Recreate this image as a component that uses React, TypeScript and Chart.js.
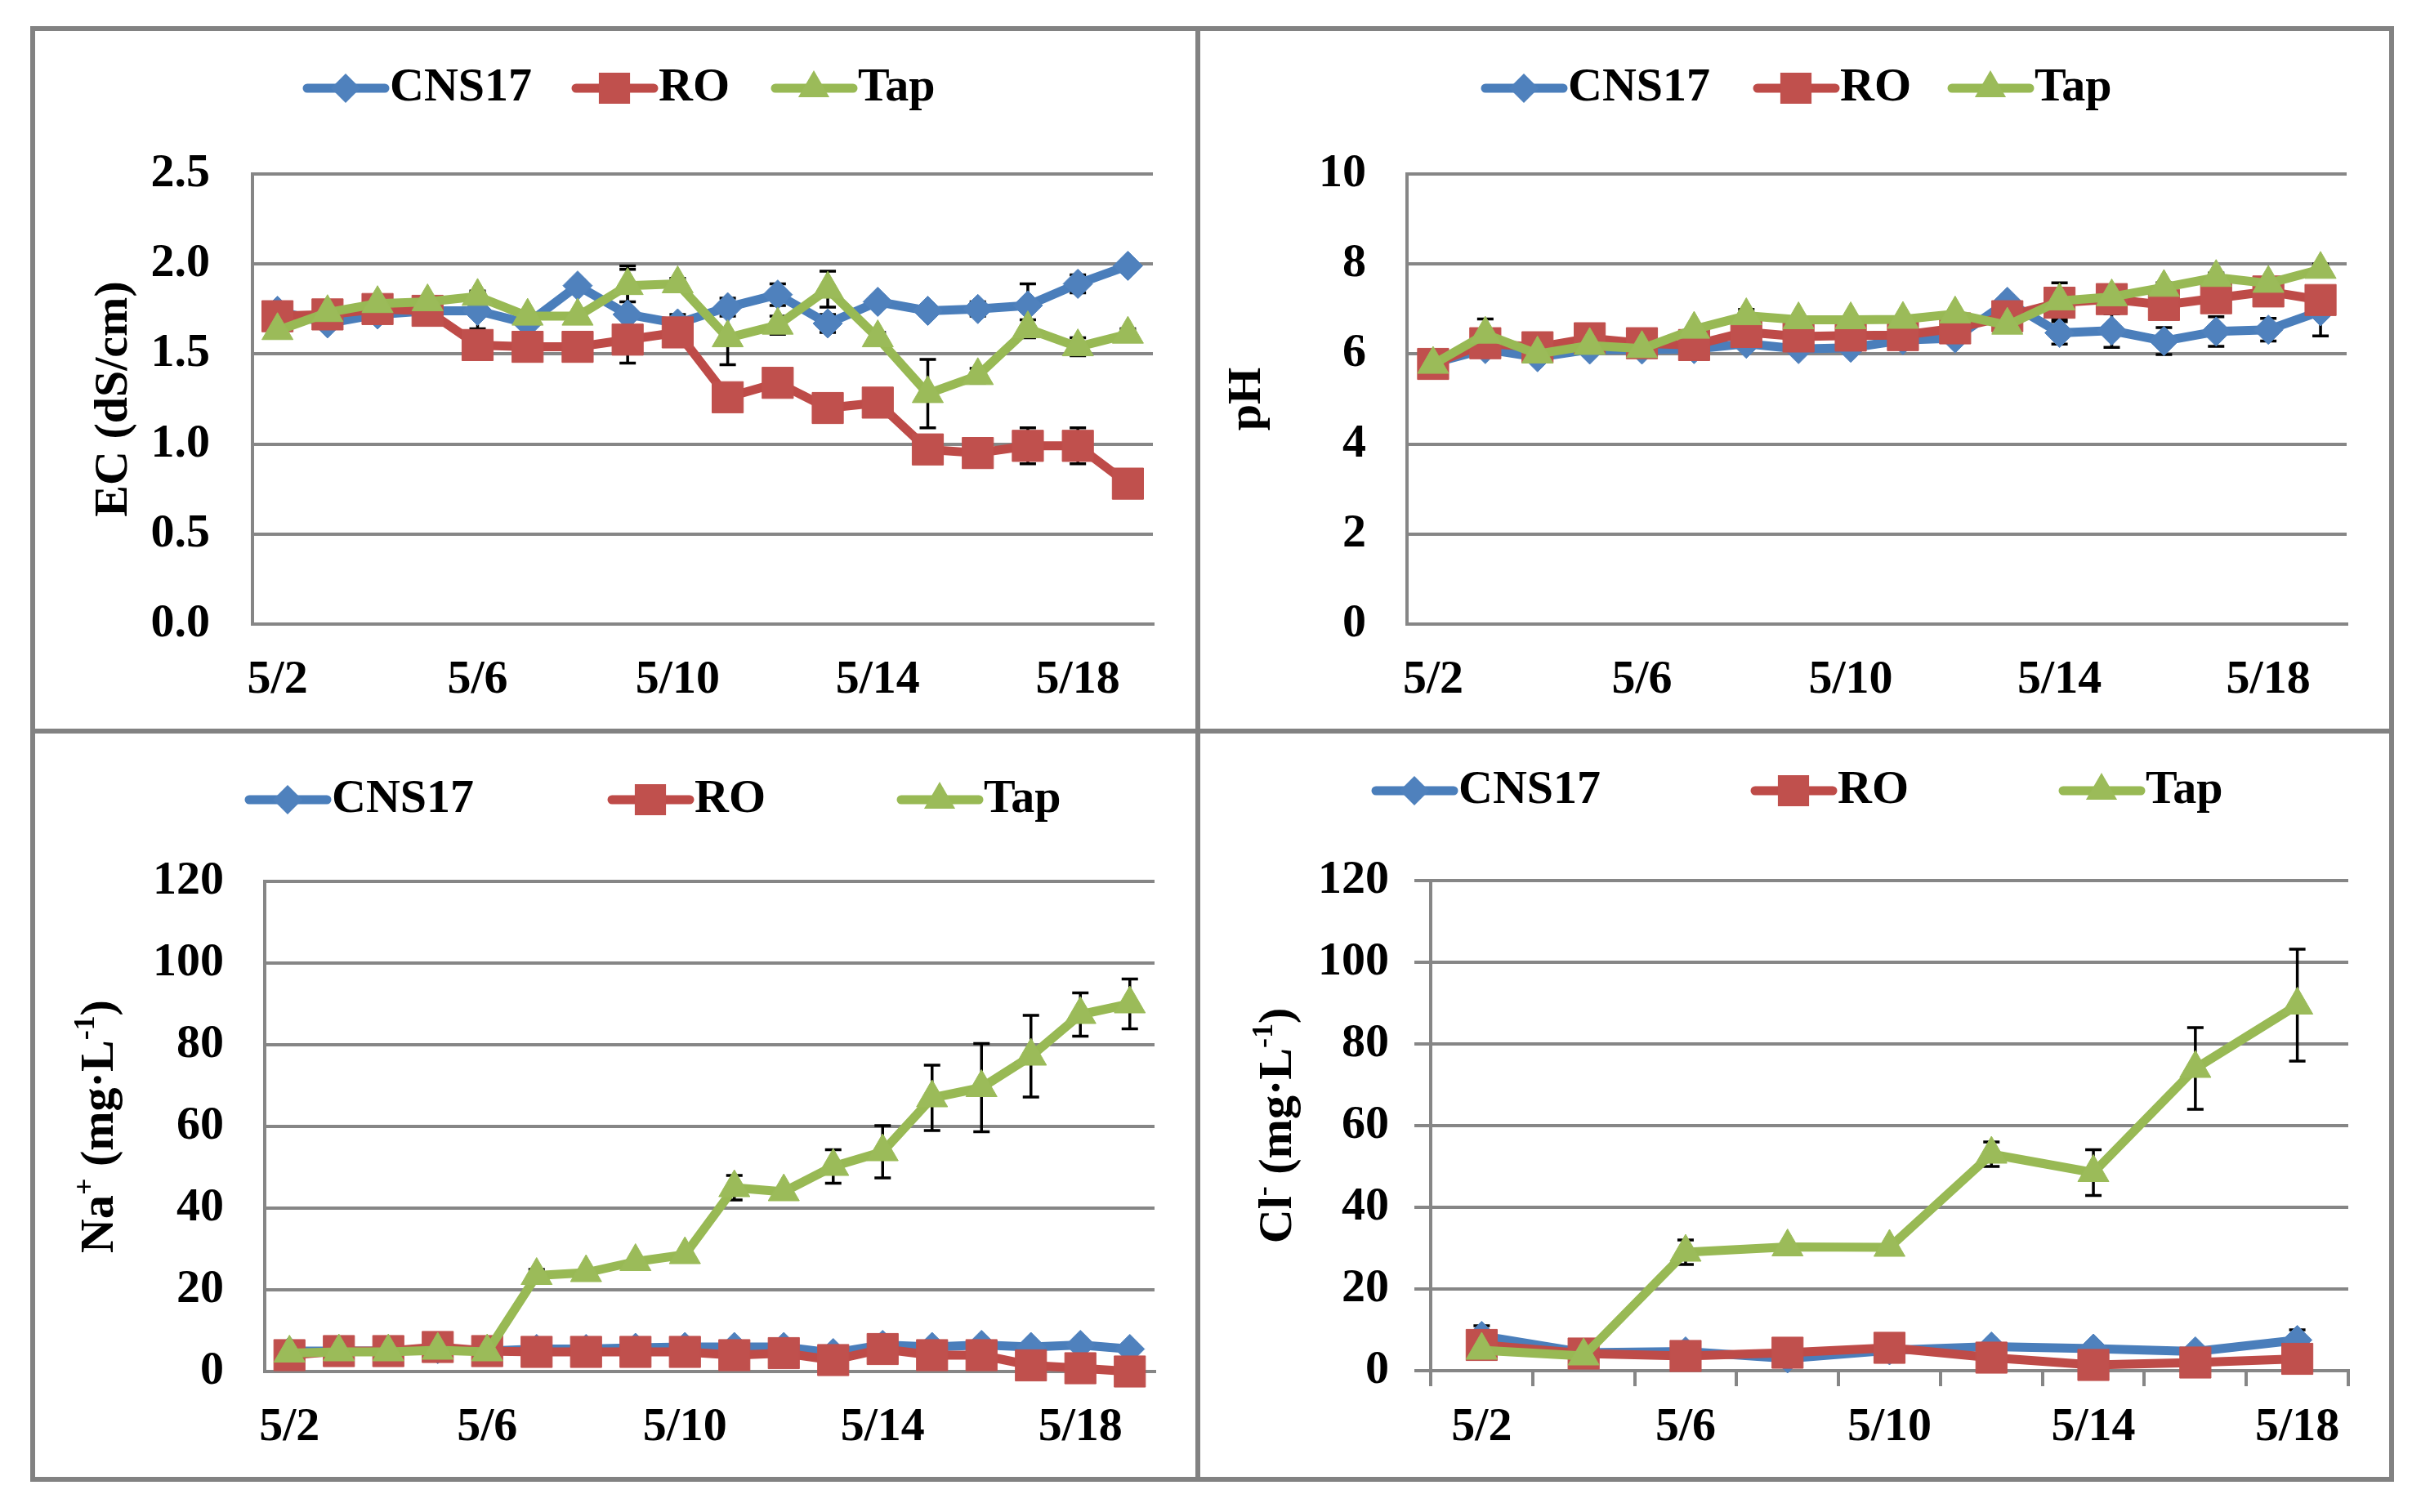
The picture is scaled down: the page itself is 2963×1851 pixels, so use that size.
import React, { useEffect, useRef } from 'react';
import { Chart, registerables } from 'chart.js';

Chart.register(...registerables);

// ---------- data ----------
const seriesNames = ['CNS17', 'RO', 'Tap'];
const dailyDates = ['5/2', '5/3', '5/4', '5/5', '5/6', '5/7', '5/8', '5/9', '5/10', '5/11', '5/12', '5/13', '5/14', '5/15', '5/16', '5/17', '5/18', '5/19'];
const everyOtherDayDates = ['5/2', '5/4', '5/6', '5/8', '5/10', '5/12', '5/14', '5/16', '5/18'];
const xTickLabels = ['5/2', '5/6', '5/10', '5/14', '5/18'];

const ecTickValues = [0, 0.5, 1.0, 1.5, 2.0, 2.5];
const phTickValues = [0, 2, 4, 6, 8, 10];
const ionTickValues = [0, 20, 40, 60, 80, 100, 120];

const ecCNS17 = [1.74, 1.67, 1.72, 1.74, 1.74, 1.67, 1.88, 1.72, 1.67, 1.76, 1.83, 1.67, 1.79, 1.74, 1.75, 1.77, 1.89, 1.99];
const ecRO = [1.71, 1.72, 1.75, 1.74, 1.55, 1.54, 1.54, 1.58, 1.62, 1.26, 1.34, 1.20, 1.23, 0.97, 0.95, 0.99, 0.99, 0.78];
const ecTap = [1.63, 1.73, 1.78, 1.79, 1.82, 1.71, 1.71, 1.88, 1.89, 1.59, 1.66, 1.86, 1.59, 1.28, 1.38, 1.64, 1.54, 1.61];
const ecCNS17Err = [0.03, 0.02, 0.02, 0.02, 0.10, 0.02, 0.03, 0.27, 0.05, 0.05, 0.06, 0.05, 0.03, 0.03, 0.04, 0.12, 0.05, 0.02];
const ecROErr = [0.02, 0.02, 0.02, 0.02, 0.02, 0.02, 0.02, 0.02, 0.02, 0.03, 0.03, 0.03, 0.03, 0.03, 0.03, 0.10, 0.10, 0.02];
const ecTapErr = [0.02, 0.03, 0.02, 0.02, 0.03, 0.02, 0.02, 0.09, 0.03, 0.15, 0.05, 0.10, 0.03, 0.19, 0.04, 0.05, 0.05, 0.03];

const phCNS17 = [5.80, 6.11, 5.93, 6.10, 6.10, 6.11, 6.23, 6.11, 6.14, 6.31, 6.35, 7.16, 6.47, 6.52, 6.29, 6.50, 6.54, 6.95];
const phRO = [5.78, 6.24, 6.15, 6.35, 6.24, 6.20, 6.49, 6.39, 6.41, 6.42, 6.57, 6.84, 7.14, 7.22, 7.09, 7.24, 7.39, 7.20];
const phTap = [5.77, 6.44, 6.00, 6.19, 6.12, 6.55, 6.85, 6.76, 6.76, 6.77, 6.89, 6.64, 7.18, 7.27, 7.48, 7.70, 7.57, 7.88];
const phCNS17Err = [0.05, 0.05, 0.05, 0.05, 0.05, 0.05, 0.05, 0.05, 0.05, 0.05, 0.05, 0.10, 0.25, 0.37, 0.30, 0.33, 0.25, 0.55];
const phROErr = [0.05, 0.05, 0.05, 0.05, 0.05, 0.05, 0.05, 0.05, 0.05, 0.05, 0.05, 0.05, 0.10, 0.10, 0.10, 0.10, 0.10, 0.10];
const phTapErr = [0.05, 0.34, 0.05, 0.05, 0.05, 0.05, 0.14, 0.05, 0.05, 0.05, 0.05, 0.05, 0.40, 0.10, 0.10, 0.10, 0.10, 0.12];

const naCNS17 = [5.0, 5.0, 5.0, 5.5, 5.0, 5.5, 5.5, 5.8, 6.0, 6.0, 6.0, 4.5, 6.5, 6.0, 6.5, 6.0, 6.5, 5.5];
const naRO = [4.0, 5.0, 5.0, 6.0, 5.0, 4.8, 4.8, 4.8, 4.8, 4.0, 4.5, 2.8, 5.5, 4.0, 4.0, 1.5, 0.8, 0.0];
const naTap = [4.5, 4.8, 4.8, 5.2, 4.8, 23.5, 24.2, 26.9, 28.6, 45.0, 44.0, 50.2, 53.8, 67.0, 69.5, 77.2, 87.4, 90.0];
const naCNS17Err = [0.5, 0.5, 0.5, 0.5, 0.5, 0.5, 0.5, 0.5, 0.5, 0.5, 0.5, 0.5, 0.5, 0.5, 0.5, 0.5, 0.5, 0.5];
const naROErr = [0.5, 0.5, 0.5, 0.5, 0.5, 0.5, 0.5, 0.5, 0.5, 0.5, 0.5, 0.5, 0.5, 0.5, 0.5, 0.5, 0.5, 0.5];
const naTapErr = [0.5, 0.5, 0.5, 0.5, 0.5, 1.5, 0.5, 0.5, 0.5, 3.0, 0.5, 4.1, 6.4, 8.0, 10.8, 10.0, 5.3, 6.1];

const clCNS17 = [8.5, 4.4, 4.7, 3.0, 5.0, 5.9, 5.4, 4.7, 7.5];
const clRO = [6.3, 4.2, 3.6, 4.4, 5.6, 3.2, 1.4, 2.0, 2.9];
const clTap = [5.0, 3.6, 29.0, 30.3, 30.2, 53.0, 48.5, 74.0, 89.5];
const clCNS17Err = [2.5, 0.5, 0.5, 0.5, 0.5, 0.5, 0.5, 0.5, 2.5];
const clROErr = [0.5, 0.5, 0.5, 0.5, 0.5, 0.5, 0.5, 0.5, 0.5];
const clTapErr = [0.5, 0.5, 3.0, 0.5, 0.5, 3.0, 5.6, 10.0, 13.7];

// ---------- styles ----------
const FONT_FAMILY = '"Liberation Serif", "Times New Roman", serif';
const FONT_SIZE = 58;
const GRID_COLOR = '#868686';
const FRAME_COLOR = '#828282';
const LINE_WIDTH = 11;

const seriesStyles = [
  { line: '#4A7EBB', fill: '#4F81BD', point: 'rectRot', radius: 18 },
  { line: '#BE4B48', fill: '#C0504D', point: 'rect', radius: 27 },
  { line: '#98B954', fill: '#9BBB59', point: 'triangle', radius: 22 },
];

type Seg = { text: string; sup?: boolean };

type PanelCfg = {
  left: number; top: number; w: number; h: number;
  padL: number; yW: number; padR: number; padT: number; xH: number; padB: number;
  tickPadY: number; tickPadX: number; yTickLen: number; xTickLen: number;
  titleX: number; legendY: number; legendX: number[];
  labels: string[]; series: number[][]; errors: number[][];
  tickValues: number[]; decimals: number; title: Seg[];
};

const panels: PanelCfg[] = [
  {
    left: 40, top: 35, w: 1426, h: 860,
    padL: 65, yW: 204, padR: 55, padT: 178, xH: 120, padB: 11,
    tickPadY: 52, tickPadX: 34, yTickLen: 0, xTickLen: 0,
    titleX: 100, legendY: 73, legendX: [331, 660, 904],
    labels: dailyDates, series: [ecCNS17, ecRO, ecTap], errors: [ecCNS17Err, ecROErr, ecTapErr],
    tickValues: ecTickValues, decimals: 1, title: [{ text: 'EC (dS/cm)' }],
  },
  {
    left: 1466, top: 35, w: 1461, h: 860,
    padL: 26, yW: 230, padR: 55, padT: 178, xH: 120, padB: 11,
    tickPadY: 50, tickPadX: 34, yTickLen: 0, xTickLen: 0,
    titleX: 61, legendY: 73, legendX: [347, 680, 918],
    labels: dailyDates, series: [phCNS17, phRO, phTap], errors: [phCNS17Err, phROErr, phTapErr],
    tickValues: phTickValues, decimals: 0, title: [{ text: 'pH' }],
  },
  {
    left: 40, top: 895, w: 1426, h: 916,
    padL: 48, yW: 236, padR: 53, padT: 184, xH: 120, padB: 12,
    tickPadY: 50, tickPadX: 34, yTickLen: 0, xTickLen: 0,
    titleX: 83, legendY: 84, legendX: [260, 704, 1058],
    labels: dailyDates, series: [naCNS17, naRO, naTap], errors: [naCNS17Err, naROErr, naTapErr],
    tickValues: ionTickValues, decimals: 0,
    title: [{ text: 'Na' }, { text: '+', sup: true }, { text: ' (mg·L' }, { text: '-1', sup: true }, { text: ')' }],
  },
  {
    left: 1466, top: 895, w: 1461, h: 916,
    padL: 64, yW: 221, padR: 53, padT: 183, xH: 120, padB: 13,
    tickPadY: 31, tickPadX: 16, yTickLen: 20, xTickLen: 19,
    titleX: 99, legendY: 73, legendX: [213, 677, 1054],
    labels: everyOtherDayDates, series: [clCNS17, clRO, clTap], errors: [clCNS17Err, clROErr, clTapErr],
    tickValues: ionTickValues, decimals: 0,
    title: [{ text: 'Cl' }, { text: '-', sup: true }, { text: ' (mg·L' }, { text: '-1', sup: true }, { text: ')' }],
  },
];

function font(size: number) {
  return `bold ${size}px ${FONT_FAMILY}`;
}

function drawMarker(ctx: CanvasRenderingContext2D, kind: string, x: number, y: number, r: number, color: string) {
  ctx.beginPath();
  if (kind === 'rectRot') {
    ctx.moveTo(x - r, y); ctx.lineTo(x, y - r); ctx.lineTo(x + r, y); ctx.lineTo(x, y + r);
  } else if (kind === 'rect') {
    const s = r * Math.SQRT1_2;
    ctx.rect(x - s, y - s, 2 * s, 2 * s);
  } else {
    ctx.moveTo(x, y - r);
    ctx.lineTo(x + Math.sin((2 * Math.PI) / 3) * r, y + 0.5 * r);
    ctx.lineTo(x - Math.sin((2 * Math.PI) / 3) * r, y + 0.5 * r);
  }
  ctx.closePath();
  ctx.fillStyle = color;
  ctx.fill();
}

function makeDecor(p: PanelCfg) {
  return {
    id: 'panelDecor',
    beforeDatasetsDraw(chart: any) {
      const ctx: CanvasRenderingContext2D = chart.ctx;
      const ys = chart.scales.y;
      ctx.save();
      ctx.strokeStyle = '#000';
      ctx.lineWidth = 3.5;
      chart.data.datasets.forEach((ds: any, i: number) => {
        const meta = chart.getDatasetMeta(i);
        const errs = p.errors[i];
        meta.data.forEach((pt: any, j: number) => {
          const e = errs[j];
          if (!e) return;
          const v = ds.data[j];
          const y1 = ys.getPixelForValue(v + e);
          const y2 = ys.getPixelForValue(v - e);
          ctx.beginPath();
          ctx.moveTo(pt.x, y1); ctx.lineTo(pt.x, y2);
          ctx.moveTo(pt.x - 10, y1); ctx.lineTo(pt.x + 10, y1);
          ctx.moveTo(pt.x - 10, y2); ctx.lineTo(pt.x + 10, y2);
          ctx.stroke();
        });
      });
      ctx.restore();
    },
    afterDraw(chart: any) {
      const ctx: CanvasRenderingContext2D = chart.ctx;
      ctx.save();
      // legend
      seriesNames.forEach((name, i) => {
        const st = seriesStyles[i];
        const x0 = p.legendX[i];
        const y0 = p.legendY;
        ctx.beginPath();
        ctx.strokeStyle = st.line;
        ctx.lineWidth = LINE_WIDTH;
        ctx.lineCap = 'round';
        ctx.moveTo(x0 + 5, y0); ctx.lineTo(x0 + 100, y0);
        ctx.stroke();
        drawMarker(ctx, st.point, x0 + 52, y0, st.radius, st.fill);
        ctx.fillStyle = '#000';
        ctx.font = font(FONT_SIZE);
        ctx.textAlign = 'left';
        ctx.textBaseline = 'middle';
        ctx.fillText(name, x0 + 106, y0);
      });
      // y-axis title with superscripts
      const ca = chart.chartArea;
      const cy = (ca.top + ca.bottom) / 2;
      const supSize = Math.round(FONT_SIZE * 0.62);
      let total = 0;
      const widths = p.title.map((s) => {
        ctx.font = font(s.sup ? supSize : FONT_SIZE);
        const w = ctx.measureText(s.text).width;
        total += w;
        return w;
      });
      ctx.translate(p.titleX, cy);
      ctx.rotate(-Math.PI / 2);
      let x = -total / 2;
      ctx.fillStyle = '#000';
      ctx.textAlign = 'left';
      ctx.textBaseline = 'middle';
      p.title.forEach((s, k) => {
        ctx.font = font(s.sup ? supSize : FONT_SIZE);
        ctx.fillText(s.text, x, s.sup ? -FONT_SIZE * 0.3 : 0);
        x += widths[k];
      });
      ctx.restore();
    },
  };
}

function Panel({ p }: { p: PanelCfg }) {
  const ref = useRef<HTMLCanvasElement>(null);
  useEffect(() => {
    if (!ref.current) return;
    const tickFont = { family: FONT_FAMILY, size: FONT_SIZE, weight: 'bold' as const };
    const chart = new Chart(ref.current, {
      type: 'line',
      data: {
        labels: p.labels,
        datasets: p.series.map((vals, i) => ({
          label: seriesNames[i],
          data: vals,
          order: 3 - i,
          borderColor: seriesStyles[i].line,
          backgroundColor: seriesStyles[i].fill,
          borderWidth: LINE_WIDTH,
          borderJoinStyle: 'round' as const,
          borderCapStyle: 'round' as const,
          tension: 0,
          fill: false,
          clip: false as any,
          pointStyle: seriesStyles[i].point as any,
          pointRadius: seriesStyles[i].radius,
          pointHoverRadius: seriesStyles[i].radius,
          pointBackgroundColor: seriesStyles[i].fill,
          pointBorderColor: seriesStyles[i].fill,
          pointBorderWidth: 1,
        })),
      },
      options: {
        responsive: false,
        animation: false,
        events: [],
        layout: { padding: { left: p.padL, right: p.padR, top: p.padT, bottom: p.padB } },
        plugins: { legend: { display: false }, tooltip: { enabled: false }, title: { display: false } },
        scales: {
          x: {
            type: 'category',
            offset: true,
            grid: {
              display: p.xTickLen > 0,
              drawOnChartArea: false,
              drawTicks: p.xTickLen > 0,
              tickLength: p.xTickLen,
              offset: true,
              color: GRID_COLOR,
              lineWidth: 4,
            },
            border: { display: true, color: GRID_COLOR, width: 4 },
            ticks: {
              autoSkip: false,
              maxRotation: 0,
              minRotation: 0,
              padding: p.tickPadX,
              color: '#000',
              font: tickFont,
              callback: function (this: any, val: any) {
                const lab = this.getLabelForValue(val);
                return xTickLabels.includes(lab) ? lab : '';
              },
            },
            afterFit: (s: any) => { s.height = p.xH; },
          },
          y: {
            type: 'linear',
            min: p.tickValues[0],
            max: p.tickValues[p.tickValues.length - 1],
            grid: {
              color: GRID_COLOR,
              lineWidth: 4,
              drawTicks: p.yTickLen > 0,
              tickLength: p.yTickLen,
            },
            border: { display: true, color: GRID_COLOR, width: 4 },
            ticks: {
              padding: p.tickPadY,
              color: '#000',
              font: tickFont,
              callback: (v: any) => Number(v).toFixed(p.decimals),
            },
            afterBuildTicks: (s: any) => { s.ticks = p.tickValues.map((v) => ({ value: v })); },
            afterFit: (s: any) => { s.width = p.yW; },
          },
        },
      },
      plugins: [makeDecor(p)],
    });
    return () => chart.destroy();
  }, []);
  return (
    <canvas
      ref={ref}
      width={p.w}
      height={p.h}
      style={{ position: 'absolute', left: p.left, top: p.top, width: p.w, height: p.h }}
    />
  );
}

const frameLines = [
  { left: 37, top: 32, width: 2893, height: 6 },
  { left: 37, top: 1808, width: 2893, height: 6 },
  { left: 37, top: 32, width: 6, height: 1782 },
  { left: 2924, top: 32, width: 6, height: 1782 },
  { left: 1463, top: 32, width: 6, height: 1782 },
  { left: 37, top: 892, width: 2893, height: 6 },
];

export default function App() {
  return (
    <div style={{ position: 'fixed', left: 0, top: 0, width: 2963, height: 1851, background: '#fff', overflow: 'hidden' }}>
      {panels.map((p, i) => (
        <Panel key={i} p={p} />
      ))}
      {frameLines.map((l, i) => (
        <div key={'f' + i} style={{ position: 'absolute', ...l, background: FRAME_COLOR }} />
      ))}
    </div>
  );
}
